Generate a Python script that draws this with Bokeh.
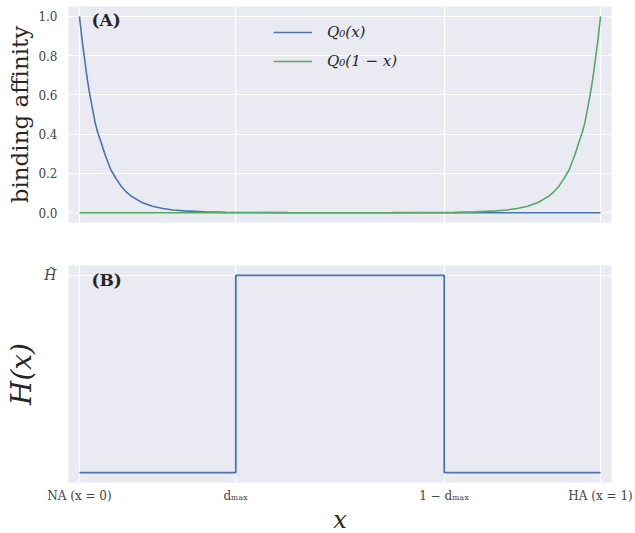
from bokeh.plotting import figure
from bokeh.layouts import column
from bokeh.models import Range1d, FixedTicker, Legend, LegendItem, Label, PrintfTickFormatter
from bokeh.embed import file_html
from bokeh.resources import INLINE

# ---- data ----
x_q = [0, .0025, .005, .0075, .01, .0125, .015, .02, .025, .03, .035, .04, .045, .05,
       .06, .07, .08, .09, .10, .12, .14, .16, .18, .20, .24, .28, .32, .40, .50,
       .60, .70, .80, .90, 1.0]
q0 = [1.0, .94, .88, .83, .78, .73, .68, .60, .53, .46, .41, .37, .33, .29,
      .22, .175, .135, .105, .083, .052, .033, .021, .014, .009, .004, .0017, .0008,
      .0001, 0, 0, 0, 0, 0, 0]
x_q_mirror = [1 - v for v in x_q]          # Q0(1-x)

h_breaks = [0, 0.3, 0.7, 1.0]               # step positions
h_levels = [0, 1, 0, 0]                     # H(x) level after each break

x_ticks = [0, 0.3, 0.7, 1]
x_tick_labels = ["NA (x = 0)", "dₘₐₓ", "1 − dₘₐₓ", "HA (x = 1)"]
y_ticks_top = [0, 0.2, 0.4, 0.6, 0.8, 1.0]

BG = "#EAEAF2"
BLUE = "#4C72B0"
GREEN = "#55A868"
SERIF = "DejaVu Serif"
TXT = "#262626"


def style(p):
    p.background_fill_color = BG
    p.border_fill_color = "white"
    p.outline_line_color = None
    for ax in p.axis:
        ax.axis_line_color = None
        ax.major_tick_line_color = None
        ax.minor_tick_line_color = None
        ax.major_label_text_font = SERIF
        ax.major_label_text_color = "#444444"
        ax.major_label_text_font_size = "12px"
        ax.axis_label_text_font = SERIF
        ax.axis_label_text_color = TXT
    for g in p.grid:
        g.grid_line_color = "white"
        g.grid_line_width = 1.2


# ---- top panel ----
p1 = figure(frame_width=543, frame_height=216, x_range=Range1d(-0.021, 1.021),
            y_range=Range1d(-0.05, 1.05), output_backend="svg", toolbar_location=None,
            min_border_left=68, min_border_right=24, min_border_top=6, min_border_bottom=8)
style(p1)
p1.xaxis.visible = False
p1.xgrid.ticker = FixedTicker(ticks=x_ticks)
p1.yaxis.ticker = FixedTicker(ticks=y_ticks_top)
p1.yaxis.formatter = PrintfTickFormatter(format="%.1f")
p1.yaxis.axis_label = "binding affinity"
p1.yaxis.axis_label_text_font_size = "23px"
p1.yaxis.axis_label_text_font_style = "normal"
p1.yaxis.major_label_standoff = 5
p1.yaxis.axis_label_standoff = 2

r1 = p1.line(x_q, q0, color=BLUE, line_width=1.6)
r2 = p1.line(x_q_mirror, q0, color=GREEN, line_width=1.6)

leg = Legend(items=[LegendItem(label="Q₀(x)", renderers=[r1]),
                    LegendItem(label="Q₀(1 − x)", renderers=[r2])],
             location=(205, 151), label_text_font=SERIF, label_text_font_style="italic",
             label_text_font_size="15px", label_text_color=TXT, glyph_width=39,
             glyph_height=20, label_height=20, spacing=9, label_standoff=15,
             padding=0, margin=0, border_line_color=None, background_fill_alpha=0)
p1.add_layout(leg)
p1.add_layout(Label(x=0.023, y=0.979, text="(A)", text_font=SERIF, text_font_style="bold",
                    text_font_size="17px", text_baseline="middle", text_color=TXT))

# ---- bottom panel ----
p2 = figure(frame_width=543, frame_height=217, x_range=p1.x_range,
            y_range=Range1d(-0.05, 1.05), output_backend="svg", toolbar_location=None,
            min_border_left=68, min_border_right=24, min_border_top=35, min_border_bottom=46)
style(p2)
p2.xaxis.ticker = FixedTicker(ticks=x_ticks)
p2.xaxis.major_label_overrides = dict(zip(x_ticks, x_tick_labels))
p2.xaxis.major_label_standoff = 0
p2.xaxis.axis_label = "x"
p2.xaxis.axis_label_text_font_size = "24px"
p2.xaxis.axis_label_text_font_style = "italic"
p2.xaxis.axis_label_standoff = 0
p2.yaxis.ticker = FixedTicker(ticks=[1])
p2.yaxis.major_label_overrides = {1: "H̃"}
p2.yaxis.major_label_text_font_style = "italic"
p2.yaxis.major_label_text_font_size = "14px"
p2.yaxis.axis_label = "H(x)"
p2.yaxis.axis_label_text_font_size = "28px"
p2.yaxis.axis_label_text_font_style = "italic"
p2.yaxis.major_label_standoff = 6
p2.yaxis.axis_label_standoff = 3

p2.step(h_breaks, h_levels, mode="after", color=BLUE, line_width=1.8)
p2.add_layout(Label(x=0.023, y=0.974, text="(B)", text_font=SERIF, text_font_style="bold",
                    text_font_size="17px", text_baseline="middle", text_color=TXT))

layout = column(p1, p2, spacing=0)
open("out.html", "w").write(file_html(layout, INLINE))
